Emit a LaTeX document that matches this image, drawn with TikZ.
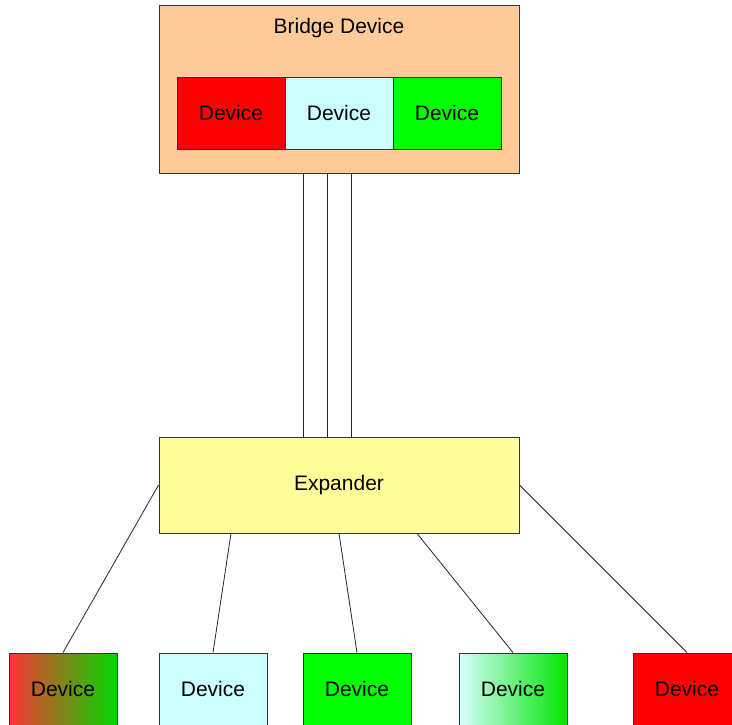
\documentclass[tikz,border=0pt]{standalone}
\usepackage{fontspec}
\setmainfont{Liberation Sans}
\begin{document}
\begin{tikzpicture}[x=1pt,y=-1pt,
  box/.style={draw=black!80,line width=0.9pt,inner sep=0pt,font=\fontsize{21}{25}\selectfont},
  dev/.style={box,minimum width=108pt,minimum height=72pt},
  conn/.style={draw=black!85,line width=0.8pt}]
\useasboundingbox (0,0) rectangle (732,725);
\definecolor{peach}{HTML}{FFCC99}
\definecolor{paleyellow}{HTML}{FFFF99}
\definecolor{palecyan}{HTML}{CCFFFF}
\definecolor{devred}{HTML}{FF0000}
\definecolor{devgreen}{HTML}{00FF00}
% bridge
\node[box,fill=peach,minimum width=360pt,minimum height=168pt] (bridge) at (339,89) {};
\node[font=\fontsize{21}{25}\selectfont,inner sep=0pt] (btitle) at (339,28) {Bridge Device};
\node[dev,fill=devred] (b1) at (231,113) {Device};
\node[dev,fill=palecyan] (b2) at (339,113) {Device};
\node[dev,fill=devgreen] (b3) at (447,113) {Device};
% expander
\node[box,fill=paleyellow,minimum width=360pt,minimum height=96pt] (exp) at (339,485) {Expander};
% links bridge-expander
\draw[conn] ([xshift=-36pt]bridge.south) -- ([xshift=-36pt]exp.north);
\draw[conn] ([xshift=-12pt]bridge.south) -- ([xshift=-12pt]exp.north);
\draw[conn] ([xshift=12pt]bridge.south) -- ([xshift=12pt]exp.north);
% bottom devices
\node[dev,left color=devred!80,right color=devgreen!85!black!100] (d1) at (63,689) {Device};
\node[dev,fill=palecyan] (d2) at (213,689) {Device};
\node[dev,fill=devgreen] (d3) at (357,689) {Device};
\node[dev,left color=palecyan!80!white,right color=devgreen!90!black!100] (d4) at (513,689) {Device};
\node[dev,fill=devred] (d5) at (687,689) {Device};
% links expander-devices
\draw[conn] (exp.west) -- (d1.north);
\draw[conn] ([xshift=-108pt]exp.south) -- (d2.north);
\draw[conn] (exp.south) -- (d3.north);
\draw[conn] ([xshift=78pt]exp.south) -- (d4.north);
\draw[conn] (exp.east) -- (d5.north);
\end{tikzpicture}
\end{document}
